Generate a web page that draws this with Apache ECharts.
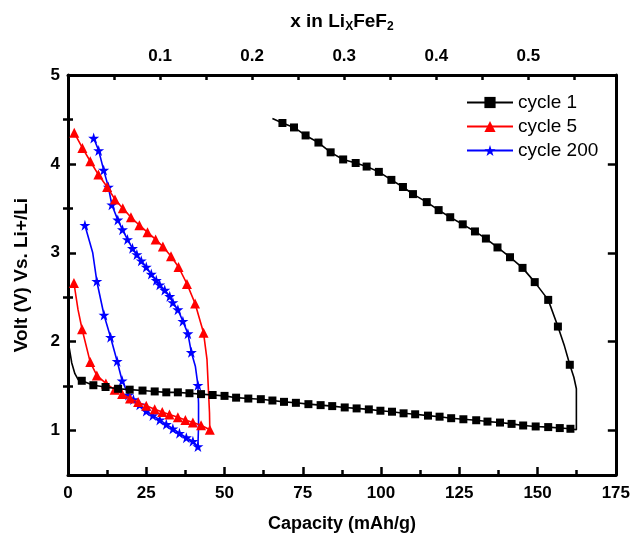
<!DOCTYPE html>
<html><head><meta charset="utf-8">
<script src="https://cdn.jsdelivr.net/npm/echarts@6/dist/echarts.min.js"></script>
<style>html,body{margin:0;padding:0;background:#fff}#c{width:633px;height:538px}</style>
</head><body><div id="c"></div>
<script>
// [capacity mAh/g, voltage V, marker(1) / plain line point(0)]
const cycle1Discharge = [
 [0.4,1.93,0],[1.2,1.76,0],[2.2,1.64,0],[3.3,1.57,0],
 [4.4,1.56,1],[8.1,1.51,1],[12.0,1.49,1],[16.0,1.47,1],[19.7,1.46,1],[23.8,1.45,1],[27.7,1.44,1],
 [31.4,1.43,1],[35.1,1.43,1],[38.8,1.42,1],[42.5,1.41,1],[46.2,1.40,1],[50.0,1.39,1],[53.7,1.37,1],
 [57.6,1.36,1],[61.6,1.353,1],[65.3,1.338,1],[69.0,1.323,1],[72.8,1.312,1],[76.8,1.297,1],[80.7,1.286,1],
 [84.4,1.275,1],[88.4,1.26,1],[92.2,1.249,1],[96.1,1.238,1],[99.8,1.223,1],[103.5,1.212,1],[107.2,1.194,1],
 [110.9,1.183,1],[115.0,1.168,1],[118.7,1.156,1],[122.4,1.139,1],[126.3,1.127,1],[130.4,1.116,1],
 [134.0,1.101,1],[138.0,1.09,1],[141.7,1.075,1],[145.4,1.057,1],[149.4,1.046,1],[153.4,1.039,1],
 [157.1,1.028,1],[160.5,1.02,1],[162.4,1.01,0]
];
const cycle1Charge = [
 [162.4,1.47,0],[161.6,1.6,0],[160.3,1.74,1],[158.6,1.95,0],[156.5,2.17,1],[153.4,2.47,1],[149.1,2.67,1],
 [145.2,2.83,1],[141.2,2.95,1],[137.2,3.06,1],[133.5,3.16,1],[130.0,3.24,1],[126.1,3.32,1],[122.1,3.40,1],
 [118.4,3.48,1],[114.6,3.57,1],[110.2,3.66,1],[107.0,3.74,1],[103.3,3.82,1],[99.3,3.91,1],[95.4,3.97,1],
 [91.9,4.01,1],[87.9,4.05,1],[83.9,4.13,1],[80.0,4.24,1],[75.9,4.32,1],[72.2,4.41,1],[68.5,4.46,1],[65.3,4.51,0]
];
const cycle5Discharge = [
 [1.9,2.66,1],[3.2,2.36,0],[4.5,2.14,1],[7.1,1.77,1],[9.2,1.62,1],[12.1,1.53,1],[14.9,1.46,1],[17.3,1.41,1],
 [19.8,1.36,1],[22.4,1.32,1],[25.0,1.28,1],[27.7,1.24,1],[30.1,1.21,1],[32.4,1.18,1],[35.1,1.15,1],
 [37.5,1.12,1],[39.9,1.09,1],[42.5,1.06,1],[45.3,1.01,1]
];
const cycle5Charge = [
 [45.2,1.2,0],[44.8,1.5,0],[44.4,1.8,0],[43.3,2.10,1],[40.6,2.43,1],[38.0,2.65,1],[35.3,2.84,1],[32.9,2.96,1],
 [30.3,3.07,1],[28.0,3.15,1],[25.4,3.23,1],[22.8,3.31,1],[20.1,3.40,1],[17.5,3.50,1],[15.0,3.60,1],
 [12.5,3.74,1],[9.7,3.88,1],[7.1,4.03,1],[4.6,4.18,1],[2.0,4.35,1]
];
const cycle200Discharge = [
 [5.4,3.31,1],[7.9,3.0,0],[9.2,2.68,1],[11.5,2.30,1],[13.6,2.05,1],[15.7,1.78,1],[17.3,1.56,1],
 [19.3,1.40,1],[20.9,1.35,1],[22.9,1.29,1],[25.0,1.22,1],[27.1,1.17,1],[29.3,1.12,1],[31.4,1.07,1],
 [33.5,1.02,1],[35.6,0.97,1],[37.8,0.92,1],[39.9,0.88,1],[41.5,0.82,1]
];
const cycle200Charge = [
 [41.7,1.05,0],[41.7,1.3,0],[41.5,1.51,1],[40.7,1.72,0],[39.4,1.88,1],[38.3,2.09,1],[36.7,2.23,1],
 [35.1,2.36,1],[33.5,2.44,1],[32.5,2.51,1],[30.9,2.58,1],[29.3,2.64,1],[28.2,2.69,1],[26.6,2.76,1],
 [25.0,2.84,1],[23.4,2.91,1],[22.0,2.98,1],[20.6,3.05,1],[19.0,3.15,1],[17.4,3.26,1],[15.9,3.37,1],
 [14.0,3.54,1],[12.9,3.74,1],[11.4,3.93,1],[9.8,4.15,1],[8.2,4.29,1]
];
const seriesNames = ['cycle 1','cycle 5','cycle 200'];
const seriesColors = ['#000000','#ff0000','#0000ff'];
const seriesSymbols = ['rect','triangle','path://M50,0 L61.8,35.4 L99,35.4 L69,57.3 L80.3,92.7 L50,70.8 L19.7,92.7 L31,57.3 L1,35.4 L38.2,35.4 Z'];
const seriesSymbolSizes = [8,10,11];
const xTickLabels = [0,25,50,75,100,125,150,175];
const yTickLabels = [1,2,3,4,5];
const yMinorTicks = [1.5,2.5,3.5,4.5];
const topTickLabels = [0.1,0.2,0.3,0.4,0.5];
const topTicks = [0.05,0.1,0.15,0.2,0.25,0.3,0.35,0.4,0.45,0.5,0.55];

function toData(arr){
  return arr.map(p => p[2] ? {value:[p[0],p[1]]} : {value:[p[0],p[1]], symbol:'none'});
}
const allData = [
  cycle1Discharge.concat(cycle1Charge),
  cycle5Discharge.concat(cycle5Charge),
  cycle200Discharge.concat(cycle200Charge)
];

const FONT = 'Liberation Sans, Arial, sans-serif';
const lbl = {fontFamily: FONT, fontWeight:'bold', fontSize:17, color:'#000'};
const axisLine = {show:true, onZero:false, lineStyle:{color:'#000', width:3}};

const chart = echarts.init(document.getElementById('c'), null, {renderer:'canvas'});
chart.setOption({
  animation:false,
  backgroundColor:'#fff',
  grid:{left:68, right:15, top:75, bottom:57, containLabel:false},
  legend:{
    orient:'vertical', left:461, top:88, itemWidth:46, itemHeight:14, itemGap:5,
    textStyle:{fontFamily:FONT, fontSize:19, color:'#000'},
    data: seriesNames
  },
  xAxis:[
    {type:'value', position:'bottom', min:0, max:175, interval:25,
     axisLine:axisLine,
     axisTick:{show:true, inside:true, length:8, lineStyle:{width:2.5,color:'#000'}},
     minorTick:{show:true, splitNumber:2, length:5, lineStyle:{width:2.5,color:'#000'}},
     axisLabel:Object.assign({margin:10, customValues:xTickLabels}, lbl),
     splitLine:{show:false},
     name:'Capacity (mAh/g)', nameLocation:'middle', nameGap:40,
     nameTextStyle:{fontFamily:FONT, fontWeight:'bold', fontSize:18, color:'#000'}},
    {type:'value', position:'top', min:0, max:0.595,
     axisLine:axisLine,
     axisTick:{show:true, inside:true, length:5, customValues:topTicks, lineStyle:{width:2.5,color:'#000'}},
     axisLabel:Object.assign({margin:10, customValues:topTickLabels}, lbl),
     splitLine:{show:false},
     name:'x in Li{s|X}FeF{s|2}', nameLocation:'middle', nameGap:42,
     nameTextStyle:{fontFamily:FONT, fontWeight:'bold', fontSize:19, color:'#000',
       rich:{s:{fontFamily:FONT, fontWeight:'bold', fontSize:12, color:'#000', padding:[11,0,0,0]}}}}
  ],
  yAxis:[
    {type:'value', position:'left', min:0.5, max:5, interval:0.5,
     axisLine:axisLine,
     axisTick:{show:true, inside:true, length:8, customValues:yTickLabels, lineStyle:{width:2.5,color:'#000'}},
     axisLabel:Object.assign({margin:8, customValues:yTickLabels}, lbl),
     splitLine:{show:false},
     name:'Volt (V) Vs. Li+/Li', nameLocation:'middle', nameGap:37, nameRotate:90,
     nameTextStyle:{fontFamily:FONT, fontWeight:'bold', fontSize:19, color:'#000'}},
    {type:'value', position:'left', min:0.5, max:5, interval:0.5,
     axisLine:{show:false}, axisLabel:{show:false}, splitLine:{show:false},
     axisTick:{show:true, inside:true, length:5, customValues:yMinorTicks, lineStyle:{width:2.5,color:'#000'}}},
    {type:'value', position:'right', min:0.5, max:5, interval:0.5,
     axisLine:axisLine, axisLabel:{show:false}, splitLine:{show:false},
     axisTick:{show:true, inside:true, length:8, customValues:yTickLabels, lineStyle:{width:2.5,color:'#000'}}},
    {type:'value', position:'right', min:0.5, max:5, interval:0.5,
     axisLine:{show:false}, axisLabel:{show:false}, splitLine:{show:false},
     axisTick:{show:true, inside:true, length:5, customValues:yMinorTicks, lineStyle:{width:2.5,color:'#000'}}}
  ],
  series: seriesNames.map((n,i)=>({
    name:n, type:'line', xAxisIndex:0, yAxisIndex:0,
    data: toData(allData[i]),
    symbol: seriesSymbols[i], symbolSize: seriesSymbolSizes[i], showSymbol:true,
    lineStyle:{color:seriesColors[i], width:1.6},
    itemStyle:{color:seriesColors[i], borderWidth:0},
    clip:false, z: 3-i
  }))
});
</script></body></html>
